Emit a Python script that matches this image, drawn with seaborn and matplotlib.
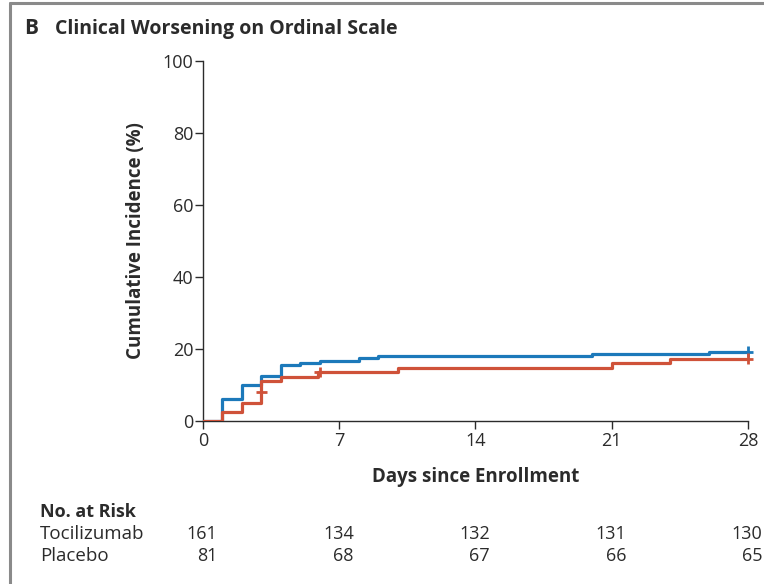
import matplotlib
matplotlib.use("Agg")
import matplotlib.pyplot as plt
import matplotlib.transforms as mtransforms
from matplotlib import font_manager
import numpy as np
import pandas as pd
import seaborn as sns

# Kaplan-Meier style cumulative incidence of clinical worsening
toci_days = [0, 1, 2, 3, 4, 5, 6, 8, 9, 20, 26, 28]
toci_pct = [0, 6.2, 9.9, 12.4, 15.5, 16.1, 16.8, 17.4, 18.0, 18.6, 19.3, 19.3]
plac_days = [0, 1, 2, 3, 4, 5.9, 10, 21, 24, 28]
plac_pct = [0, 2.5, 4.9, 11.1, 12.3, 13.6, 14.8, 16.0, 17.3, 17.3]

# censoring marks
toci_cens_days = [28]
toci_cens_pct = [19.3]
plac_cens_days = [3.0, 6.0, 28]
plac_cens_pct = [8.0, 13.6, 17.3]

# numbers at risk
risk_days = [0, 7, 14, 21, 28]
toci_risk = [161, 134, 132, 131, 130]
plac_risk = [81, 68, 67, 66, 65]

groups = ["Tocilizumab", "Placebo"]
colors = {"Tocilizumab": "#1c79ba", "Placebo": "#cf5239"}

curves = pd.concat([
    pd.DataFrame({"day": toci_days, "pct": toci_pct, "group": "Tocilizumab"}),
    pd.DataFrame({"day": plac_days, "pct": plac_pct, "group": "Placebo"}),
], ignore_index=True)
censor = pd.concat([
    pd.DataFrame({"day": toci_cens_days, "pct": toci_cens_pct, "group": "Tocilizumab"}),
    pd.DataFrame({"day": plac_cens_days, "pct": plac_cens_pct, "group": "Placebo"}),
], ignore_index=True)

sns.set_theme(style="white")
available = {f.name for f in font_manager.fontManager.ttflist}
base = "Open Sans" if "Open Sans" in available else "DejaVu Sans"
plt.rcParams["font.family"] = [base, "DejaVu Sans"]
ink = "#2b2b2b"
plt.rcParams["text.color"] = ink

fig = plt.figure(figsize=(7.64, 5.84), dpi=100)
ax = fig.add_axes([203 / 764, 1 - 421 / 584, (748 - 203) / 764, (421 - 61) / 584])

sns.lineplot(data=curves, x="day", y="pct", hue="group", hue_order=groups,
             palette=colors, drawstyle="steps-post", linewidth=2.3,
             estimator=None, sort=False, legend=False, ax=ax, zorder=3)
sns.scatterplot(data=censor, x="day", y="pct", hue="group", hue_order=groups,
                palette=colors, marker="+", s=60, linewidth=2.0,
                legend=False, ax=ax, zorder=4, clip_on=False)

ax.set_xlim(0, 28)
ax.set_ylim(0, 100)
ax.set_xticks(risk_days)
ax.set_yticks([0, 20, 40, 60, 80, 100])
for s in ["top", "right"]:
    ax.spines[s].set_visible(False)
for s in ["left", "bottom"]:
    ax.spines[s].set_color(ink)
    ax.spines[s].set_linewidth(1.0)
ax.tick_params(axis="both", direction="out", length=6, width=1.0, color=ink,
               labelsize=13, labelcolor=ink, pad=1, bottom=True, left=True)
ax.tick_params(axis="x", pad=2)
ax.set_xlabel("Days since Enrollment", fontsize=13.5, fontweight="bold",
              color=ink, labelpad=12)
ax.set_ylabel("Cumulative Incidence (%)", fontsize=13.5, fontweight="bold",
              color=ink, labelpad=12)

# panel title
fig.text(24 / 764, 1 - 29 / 584, "B", fontsize=15, fontweight="bold",
         ha="left", va="center")
fig.text(55 / 764, 1 - 29 / 584, "Clinical Worsening on Ordinal Scale",
         fontsize=14, fontweight="bold", ha="left", va="center")

# frame lines at left and top edges
fig.add_artist(plt.Line2D([10 / 764, 10 / 764], [0, 1 - 3 / 584],
                          transform=fig.transFigure, color="#8a8a8a", lw=2.2))
fig.add_artist(plt.Line2D([10 / 764, 1], [1 - 3 / 584, 1 - 3 / 584],
                          transform=fig.transFigure, color="#8a8a8a", lw=2.2))

# number-at-risk table
trans = mtransforms.blended_transform_factory(ax.transData, fig.transFigure)
fig.text(40 / 764, 1 - 512 / 584, "No. at Risk", fontsize=13,
         fontweight="bold", ha="left", va="center")
rows = [("Tocilizumab", toci_risk, 1 - 534 / 584), ("Placebo", plac_risk, 1 - 556 / 584)]
for name, counts, yy in rows:
    fig.text(40 / 764, yy, name, fontsize=13.5, ha="left", va="center")
    for d, n in zip(risk_days, counts):
        ax.text(d + 0.75, yy, str(n), transform=trans, fontsize=13,
                ha="right", va="center", clip_on=False)

fig.savefig("out.png", dpi=100, facecolor="white")
